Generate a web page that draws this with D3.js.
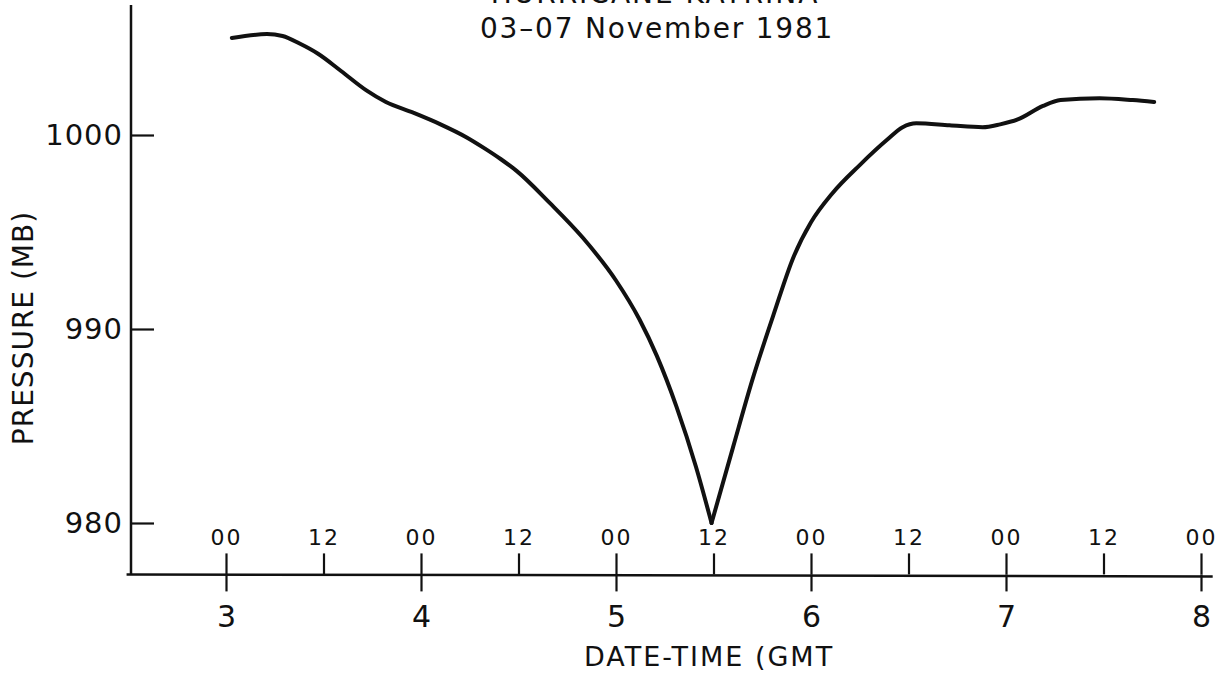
<!DOCTYPE html>
<html>
<head>
<meta charset="utf-8">
<script src="https://cdn.jsdelivr.net/npm/d3@7"></script>
<style>
  body { margin: 0; background: #fff; }
  svg { display: block; }
  text { font-family: "DejaVu Sans", sans-serif; fill: #111; }
</style>
</head>
<body>
<div id="chart"></div>
<script>
// pressure trace (day of month, mb)
var days = [3.03, 3.21, 3.29, 3.38, 3.47, 3.59, 3.72, 3.82, 3.96, 4.10, 4.23, 4.32, 4.41, 4.49,
            4.66, 4.83, 5.00, 5.12, 5.21, 5.31, 5.41, 5.49,
            5.60, 5.70, 5.81, 5.91, 6.00, 6.11, 6.25, 6.39, 6.47, 6.54, 6.71, 6.88, 6.97,
            7.06, 7.19, 7.28, 7.48, 7.65, 7.76];
var pressure = [1005.0, 1005.2, 1005.1, 1004.7, 1004.2, 1003.3, 1002.3, 1001.7, 1001.15, 1000.55, 999.9, 999.35, 998.75, 998.15,
                996.5, 994.7, 992.5, 990.5, 988.6, 986.0, 982.9, 980.0,
                983.9, 987.4, 990.8, 993.7, 995.5, 997.0, 998.45, 999.75, 1000.4, 1000.6, 1000.5, 1000.4, 1000.55,
                1000.8, 1001.5, 1001.8, 1001.9, 1001.8, 1001.7];

var dayTicks = [3, 4, 5, 6, 7, 8];
var hourTicks = [3, 3.5, 4, 4.5, 5, 5.5, 6, 6.5, 7, 7.5, 8];
var hourLabels = ["00", "12", "00", "12", "00", "12", "00", "12", "00", "12", "00"];
var pressureTicks = [980, 990, 1000];

var titleTop = "HURRICANE KATRINA";
var title = "03–07 November 1981";
var xTitle = "DATE-TIME (GMT";
var yTitle = "PRESSURE (MB)";

var width = 1226, height = 674;

var x = d3.scaleLinear().domain([3, 8]).range([226, 1201]);
var y = d3.scaleLinear().domain([980, 1000]).range([523, 135]);

var svg = d3.select("#chart").append("svg")
    .attr("width", width)
    .attr("height", height);

// axis lines
var axisY = y(977.35);
svg.append("line")
    .attr("x1", x(2.49)).attr("x2", x(8.06))
    .attr("y1", axisY).attr("y2", axisY + 2)
    .attr("stroke", "#111").attr("stroke-width", 2.5);
svg.append("line")
    .attr("x1", 131).attr("x2", 131)
    .attr("y1", y(1006.7)).attr("y2", axisY)
    .attr("stroke", "#111").attr("stroke-width", 2.5);

// hours above the axis
var hourAxis = d3.axisTop(x)
    .tickValues(hourTicks)
    .tickSize(21)
    .tickPadding(8)
    .tickFormat(function(d, i) { return hourLabels[i]; });

svg.append("g")
    .attr("transform", "translate(0," + axisY + ")")
    .call(hourAxis)
    .call(function(g) { g.select(".domain").remove(); })
    .call(function(g) {
      g.selectAll(".tick line").attr("stroke", "#111").attr("stroke-width", 2.2);
      g.selectAll(".tick text").attr("font-size", 22).attr("font-family", "DejaVu Sans")
        .attr("letter-spacing", 2).attr("fill", "#111");
    });

// days below the axis
var dayAxis = d3.axisBottom(x)
    .tickValues(dayTicks)
    .tickSize(17)
    .tickPadding(14)
    .tickFormat(d3.format("d"));

svg.append("g")
    .attr("transform", "translate(0," + axisY + ")")
    .call(dayAxis)
    .call(function(g) { g.select(".domain").remove(); })
    .call(function(g) {
      g.selectAll(".tick line").attr("stroke", "#111").attr("stroke-width", 2.2);
      g.selectAll(".tick text").attr("font-size", 30).attr("font-family", "DejaVu Sans").attr("fill", "#111");
    });

// pressure ticks point inward
var pAxis = d3.axisLeft(y)
    .tickValues(pressureTicks)
    .tickSizeInner(-23)
    .tickSizeOuter(0)
    .tickPadding(8)
    .tickFormat(d3.format("d"));

svg.append("g")
    .attr("transform", "translate(131,0)")
    .call(pAxis)
    .call(function(g) { g.select(".domain").remove(); })
    .call(function(g) {
      g.selectAll(".tick line").attr("stroke", "#111").attr("stroke-width", 2.2);
      g.selectAll(".tick text").attr("font-size", 29).attr("font-family", "DejaVu Sans")
        .attr("letter-spacing", 1).attr("fill", "#111");
    });

// the curve, with a sharp turn at the minimum
var points = days.map(function(d, i) { return {day: d, p: pressure[i]}; });
var low = d3.minIndex(pressure);

var line = d3.line()
    .x(function(d) { return x(d.day); })
    .y(function(d) { return y(d.p); })
    .curve(d3.curveMonotoneX);

[points.slice(0, low + 1), points.slice(low)].forEach(function(seg) {
  svg.append("path")
      .datum(seg)
      .attr("d", line)
      .attr("fill", "none")
      .attr("stroke", "#111")
      .attr("stroke-width", 4)
      .attr("stroke-linejoin", "round")
      .attr("stroke-linecap", "round");
});

// titles (the first line is cut by the top edge in the source)
svg.append("text")
    .attr("x", 655).attr("y", 3)
    .attr("text-anchor", "middle")
    .attr("font-size", 28)
    .attr("letter-spacing", 2)
    .text(titleTop);

svg.append("text")
    .attr("x", 480).attr("y", 38)
    .attr("font-size", 28)
    .attr("letter-spacing", 1.8)
    .text(title);

svg.append("text")
    .attr("x", 584).attr("y", 666)
    .attr("font-size", 27)
    .attr("letter-spacing", 2)
    .text(xTitle);

svg.append("text")
    .attr("transform", "translate(33,328) rotate(-90)")
    .attr("text-anchor", "middle")
    .attr("font-size", 28)
    .attr("letter-spacing", 1)
    .text(yTitle);
</script>
</body>
</html>
